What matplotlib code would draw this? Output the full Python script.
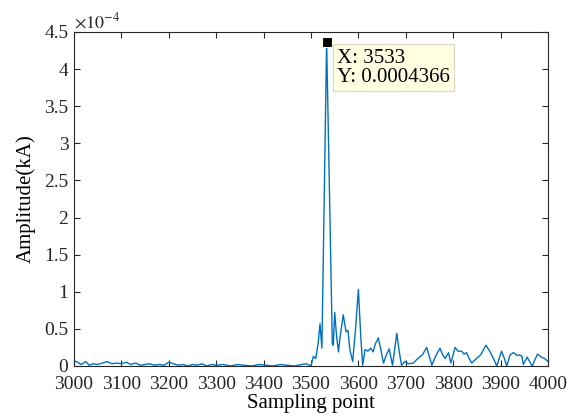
import matplotlib
matplotlib.use("Agg")
import matplotlib.pyplot as plt

plt.rcParams['font.family'] = ['Liberation Serif', 'DejaVu Serif']
plt.rcParams['mathtext.fontset'] = 'stix'

# sample positions and amplitudes (x1e-4 kA)
sample_x = [3000, 3008, 3015, 3025, 3032, 3040, 3050, 3060, 3070, 3080, 3090, 3100,
            3110, 3120, 3130, 3140, 3150, 3160, 3170, 3180, 3190, 3200, 3210, 3220,
            3230, 3240, 3250, 3260, 3270, 3280, 3290, 3300, 3315, 3330, 3345, 3360,
            3375, 3390, 3405, 3420, 3435, 3450, 3465, 3480, 3490, 3500,
            3505, 3510, 3515, 3519, 3523, 3533, 3545, 3547, 3550, 3554,
            3558, 3561, 3568, 3574, 3578, 3582, 3588, 3594, 3600, 3605, 3609, 3614,
            3620, 3626, 3631, 3636, 3642, 3648, 3653, 3659, 3665, 3672, 3676, 3681,
            3686, 3691, 3698, 3706, 3716, 3725, 3735, 3744, 3750, 3755, 3762, 3772,
            3778, 3783, 3790, 3795, 3804, 3810, 3818, 3823, 3828, 3834, 3839, 3849,
            3858, 3869, 3877, 3885, 3892, 3902, 3908, 3913, 3920, 3927, 3935, 3940,
            3945, 3948, 3956, 3962, 3967, 3972, 3978, 3986, 3993, 4000]
amplitude = [0.07, 0.05, 0.02, 0.06, 0.01, 0.03, 0.02, 0.04, 0.06, 0.03, 0.04, 0.03,
             0.05, 0.02, 0.04, 0.01, 0.02, 0.03, 0.01, 0.02, 0.01, 0.05, 0.03, 0.01,
             0.02, 0.00, 0.02, 0.01, 0.03, 0.00, 0.02, 0.01, 0.02, 0.00, 0.02, 0.01,
             0.00, 0.02, 0.01, 0.00, 0.02, 0.01, 0.00, 0.02, 0.03, 0.00,
             0.13, 0.10, 0.30, 0.57, 0.24, 4.366, 0.30, 0.28, 0.72, 0.40,
             0.19, 0.37, 0.69, 0.46, 0.48, 0.22, 0.06, 0.50, 1.03, 0.40, 0.01, 0.22,
             0.20, 0.24, 0.19, 0.30, 0.38, 0.20, 0.04, 0.15, 0.23, 0.01, 0.20, 0.44,
             0.20, 0.01, 0.06, 0.03, 0.04, 0.10, 0.15, 0.25, 0.12, 0.01, 0.12, 0.24,
             0.15, 0.10, 0.18, 0.04, 0.25, 0.20, 0.20, 0.16, 0.18, 0.10, 0.04, 0.10,
             0.15, 0.28, 0.20, 0.10, 0.00, 0.20, 0.10, 0.00, 0.15, 0.18, 0.14, 0.15,
             0.13, 0.02, 0.12, 0.05, 0.00, 0.08, 0.16, 0.12, 0.10, 0.06]

peak_x = 3533
peak_y = 4.366
x_ticks = list(range(3000, 4001, 100))
y_ticks = [0, 0.5, 1, 1.5, 2, 2.5, 3, 3.5, 4, 4.5]

fig = plt.figure(figsize=(5.7, 4.16), dpi=100)
ax = fig.add_axes([0.1298, 0.1202, 0.9614 - 0.1298, 0.9231 - 0.1202])
ax.plot(sample_x, amplitude, color='#0072BD', lw=1.0)
ax.plot([peak_x], [peak_y], marker='s', ms=7, color='black', mec='#FFFFE1', mew=0.8,
        zorder=5, clip_on=False)
ax.text(3555, 4.02, 'X: 3533\nY: 0.0004366', fontsize=15, va='center', ha='left',
        linespacing=1.0,
        bbox=dict(boxstyle='square,pad=0.2', fc='#FFFFE1', ec='#D8D8C0', lw=0.8), zorder=6)

ax.set_xlim(3000, 4000)
ax.set_ylim(0, 4.5)
ax.set_xticks(x_ticks)
ax.set_yticks(y_ticks)
ax.set_yticklabels(['0', '0.5', '1', '1.5', '2', '2.5', '3', '3.5', '4', '4.5'])
ax.tick_params(direction='in', top=True, right=True, labelsize=14, colors='#262626',
               length=4, width=0.8)
ax.tick_params(axis='x', pad=7)
ax.tick_params(axis='y', pad=4)
for s in ax.spines.values():
    s.set_color('#262626')
    s.set_linewidth(0.8)
ax.set_xlabel('Sampling point', fontsize=15, labelpad=1)
ax.set_ylabel('Amplitude(kA)', fontsize=15, labelpad=6)
ax.text(0.0, 1.0, r'$\times 10^{-4}$', transform=ax.transAxes, fontsize=13,
        ha='left', va='bottom', color='#262626')

fig.savefig('out.png', dpi=100)
